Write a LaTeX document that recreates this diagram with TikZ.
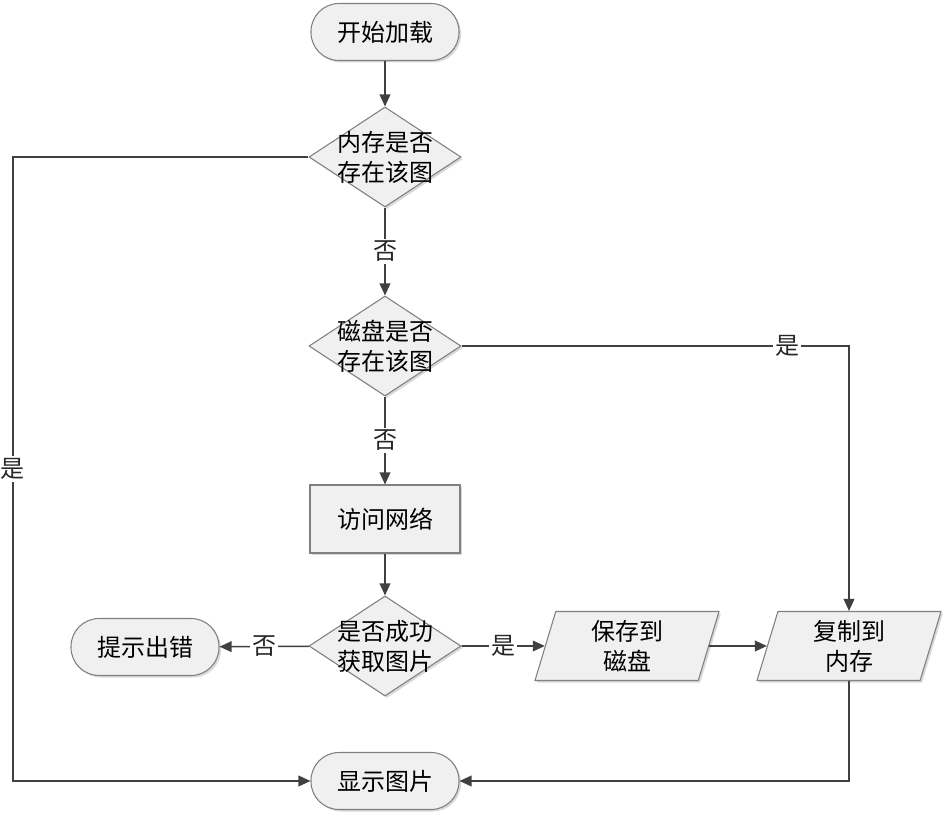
\documentclass[tikz,border=0pt]{standalone}
\usepackage{fontspec}
\setmainfont{Noto Sans CJK SC}
\usetikzlibrary{shapes.geometric,arrows.meta,shadows}

\tikzset{
  base/.style={draw=black!50, fill=black!6, line width=0.8pt, align=center,
    font=\fontsize{18pt}{22.5pt}\selectfont,
    drop shadow={shadow xshift=1.5pt, shadow yshift=-1.5pt, fill=black!15, opacity=1}},
  terminal/.style={base, rectangle, rounded corners=21pt, minimum width=111pt, minimum height=42.75pt},
  process/.style={base, rectangle, minimum width=112.5pt, minimum height=51pt},
  decision/.style={base, diamond, inner sep=-12pt, minimum width=114pt, minimum height=75pt},
  io/.style={base, trapezium, trapezium left angle=70, trapezium right angle=110,
    trapezium stretches body, inner sep=2pt, minimum width=138pt, minimum height=51.75pt},
  line/.style={draw=black!75, line width=1.2pt, -{Triangle[length=9pt,width=8pt]}},
  lab/.style={fill=white, inner sep=1.5pt, text=black!85, font=\fontsize{18pt}{22.5pt}\selectfont}
}

\begin{document}
\begin{tikzpicture}[x=0.75pt,y=-0.75pt]
  \useasboundingbox (0,0) rectangle (946,816);
  % nodes
  \node[terminal] (start) at (385,32) {开始加载};
  \node[decision] (mem) at (385,157) {内存是否\\存在该图};
  \node[decision] (disk) at (385,346) {磁盘是否\\存在该图};
  \node[process] (net) at (385,519) {访问网络};
  \node[decision] (ok) at (385,646) {是否成功\\获取图片};
  \node[terminal] (err) at (145,647) {提示出错};
  \node[io] (save) at (627,646) {保存到\\磁盘};
  \node[io] (copy) at (849,646) {复制到\\内存};
  \node[terminal] (show) at (385,781) {显示图片};
  \coordinate (lft) at (13,781);
  % connectors
  \draw[line] (start) -- (mem);
  \draw[line] (mem) -- node[lab]{否} (disk);
  \draw[line] (disk) -- node[lab]{否} (net);
  \draw[line] (net) -- (ok);
  \draw[line] (ok) -- node[lab]{否} (err);
  \draw[line] (ok) -- node[lab]{是} (save);
  \draw[line] (save) -- (copy);
  \draw[line] (disk.east) -| node[lab,pos=0.42]{是} (copy.north);
  \draw[line] (copy.south) |- (show.east);
  \draw[line] (mem.west) -| node[lab,pos=0.75]{是} (lft) -- (show.west);
\end{tikzpicture}
\end{document}
